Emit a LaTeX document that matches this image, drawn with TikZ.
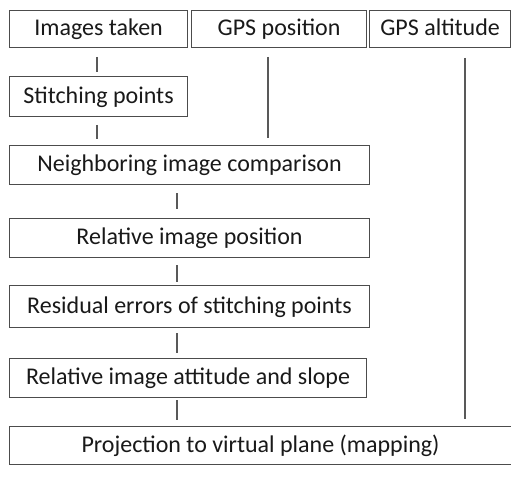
\documentclass[tikz,border=0pt]{standalone}
\usepackage{fontspec}
\setmainfont{Carlito}
\begin{document}
\begin{tikzpicture}[x=1pt,y=-1pt,
  box/.style={draw=black!70, line width=1.1pt, anchor=north west, inner sep=0pt,
    text=black!90, font=\fontsize{24}{28}\selectfont,
    text height=18pt, text depth=5pt},
  link/.style={draw=black!65, line width=1.1pt}]
\useasboundingbox (0,0) rectangle (511,484);
% top row of inputs
\node[box, minimum width=178, minimum height=37] (img) at (9,10) {Images taken};
\node[box, minimum width=175, minimum height=37] (gpsp) at (191,10) {GPS position};
\node[box, minimum width=141, minimum height=37] (gpsa) at (369,10) {GPS altitude};
% processing chain
\node[box, minimum width=178, minimum height=40] (stitch) at (9,76) {Stitching points};
\node[box, minimum width=360, minimum height=39] (neigh) at (9,145) {Neighboring image comparison};
\node[box, minimum width=360, minimum height=39] (relpos) at (9,218) {Relative image position};
\node[box, minimum width=360, minimum height=42] (resid) at (9,285) {Residual errors of stitching points};
\node[box, minimum width=357, minimum height=39] (relatt) at (9,358) {Relative image attitude and slope};
\node[box, minimum width=502, minimum height=38] (proj) at (9,426) {Projection to virtual plane (mapping)};
% connector end points
\coordinate (c1) at (97,57);  \coordinate (c2) at (97,72);
\coordinate (c3) at (97,125); \coordinate (c4) at (97,139);
\coordinate (p1) at (268,57); \coordinate (p2) at (268,138);
\coordinate (a1) at (465,58); \coordinate (a2) at (465,419);
\coordinate (n1) at (177,193); \coordinate (n2) at (177,209);
\coordinate (r1) at (177,265); \coordinate (r2) at (177,282);
\coordinate (e1) at (177,333); \coordinate (e2) at (177,353);
\coordinate (t1) at (177,400); \coordinate (t2) at (177,420);
% connectors
\draw[link] (c1) -- (c2);
\draw[link] (c3) -- (c4);
\draw[link] (p1) -- (p2);
\draw[link] (a1) -- (a2);
\draw[link] (n1) -- (n2);
\draw[link] (r1) -- (r2);
\draw[link] (e1) -- (e2);
\draw[link] (t1) -- (t2);
\end{tikzpicture}
\end{document}
